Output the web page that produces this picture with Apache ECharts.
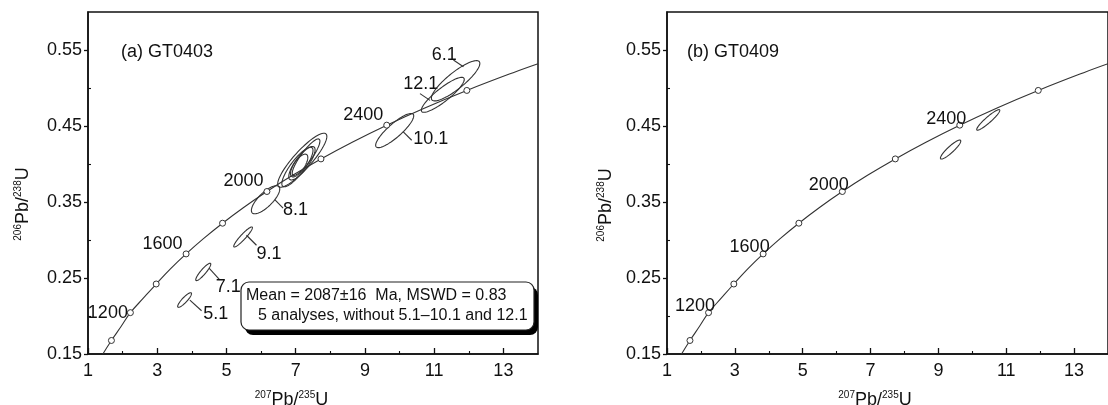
<!DOCTYPE html>
<html>
<head>
<meta charset="utf-8">
<script src="https://cdn.jsdelivr.net/npm/echarts@6/dist/echarts.min.js"></script>
<style>
html,body{margin:0;padding:0;background:#fff;}
#chart{width:1108px;height:405px;}
</style>
</head>
<body>
<div id="chart"></div>
<script>
// ---------- data ----------
const xMajor = [1, 3, 5, 7, 9, 11, 13];
const xMinor = [2, 4, 6, 8, 10, 12];
const yMajor = [0.15, 0.25, 0.35, 0.45, 0.55];
const yMinor = [0.2, 0.3, 0.4, 0.5];
const xTickLabels = ['1', '3', '5', '7', '9', '11', '13'];
const yTickLabels = ['0.15', '0.25', '0.35', '0.45', '0.55'];

// concordia curve points
const curveX = [1.429, 1.677, 1.955, 2.225, 2.598, 2.970, 3.381, 3.834, 4.335, 4.887, 5.496, 6.169, 6.911, 7.730, 8.633, 9.630, 10.730, 11.944, 13.283, 14.0];
const curveY = [0.150, 0.1678, 0.1861, 0.2044, 0.2234, 0.2421, 0.2620, 0.2817, 0.3018, 0.3221, 0.3428, 0.3638, 0.3851, 0.4067, 0.4287, 0.4511, 0.4738, 0.4968, 0.5202, 0.5319];

// age markers (Ma)
const ages = [1000, 1200, 1400, 1600, 1800, 2000, 2200, 2400, 2600];
const ageX = [1.677, 2.225, 2.970, 3.834, 4.887, 6.169, 7.730, 9.630, 11.944];
const ageY = [0.1678, 0.2044, 0.2421, 0.2817, 0.3221, 0.3638, 0.4067, 0.4511, 0.4968];
const labeledAges = [1200, 1600, 2000, 2400];

// panel (a) GT0403 error ellipses: centre, half-widths, correlation
const ellA_label = ['5.1', '7.1', '9.1', '8.1', '', '', '', '', '', '10.1', '12.1', '6.1'];
const ellA_cx = [3.79, 4.33, 5.48, 6.13, 7.19, 7.05, 7.18, 7.30, 7.10, 9.86, 11.25, 11.62];
const ellA_cy = [0.221, 0.258, 0.304, 0.353, 0.405, 0.396, 0.401, 0.409, 0.398, 0.444, 0.491, 0.5095];
const ellA_sx = [0.20, 0.217, 0.27, 0.41, 0.71, 0.45, 0.38, 0.40, 0.25, 0.55, 0.62, 0.70];
const ellA_sy = [0.0096, 0.0114, 0.0132, 0.0185, 0.0355, 0.026, 0.022, 0.024, 0.015, 0.0225, 0.0230, 0.0265];
const ellA_rho = [0.88, 0.90, 0.93, 0.76, 0.88, 0.84, 0.80, 0.88, 0.70, 0.86, 0.88, 0.86];

// panel (b) GT0409 error ellipses
const ellB_label = ['', ''];
const ellB_cx = [9.36, 10.47];
const ellB_cy = [0.419, 0.458];
const ellB_sx = [0.30, 0.34];
const ellB_sy = [0.0125, 0.0135];
const ellB_rho = [0.90, 0.93];

const titleA = '(a) GT0403';
const titleB = '(b) GT0409';
const boxLine1 = 'Mean = 2087±16  Ma, MSWD = 0.83';
const boxLine2 = '5 analyses, without 5.1–10.1 and 12.1';

// ---------- layout / style ----------
const FONT = '"Liberation Sans", Arial, Helvetica, sans-serif';
const INK = '#111';
const LINE = '#333';

const labelLayoutA = {
  '5.1': {line: [5.3, 0, 17, 10.7], text: [18.6, 14]},
  '7.1': {line: [5.8, -3.7, 16.5, 8], text: [12.5, 15]},
  '9.1': {line: [3.4, -1.7, 13.4, 8.3], text: [13.4, 16.6]},
  '8.1': {line: [9.2, 0, 17.5, 8.3], text: [17.5, 10.8]},
  '10.1': {line: [8.6, 1.4, 17, 9.7], text: [18.6, 8.7]},
  '6.1': {line: [7.8, -14.1, -2.2, -20.8], text: [-23.8, -25.8]},
  '12.1': {line: [-12.8, 5.5, -22.8, -1.2], text: [-39.5, -10.5]}
};
const ageLabelOffsetA = {1200: [1, 0], 1600: [0, -10], 2000: [0, -10], 2400: [0, -10]};
const ageLabelOffsetB = {1200: [10, -6.5], 1600: [10, -6.5], 2000: [10, -6.5], 2400: [10, -6.5]};

function fmtFrom(vals, labels) {
  return function (v) {
    const i = vals.findIndex(m => Math.abs(m - v) < 1e-6);
    return i >= 0 ? labels[i] : '';
  };
}

function makeAxes(gridIndex) {
  const xs = [
    {
      type: 'value', gridIndex: gridIndex, min: 1, max: 14, interval: 2, position: 'bottom',
      axisLine: {show: true, onZero: false, lineStyle: {color: INK, width: 1.5}},
      axisTick: {show: true, inside: true, length: 6, customValues: xMajor, lineStyle: {color: INK, width: 1.3}},
      axisLabel: {show: true, margin: 8, customValues: xMajor,
        formatter: fmtFrom(xMajor, xTickLabels), color: INK, fontSize: 18, fontFamily: FONT},
      splitLine: {show: false}
    },
    {
      type: 'value', gridIndex: gridIndex, min: 1, max: 14, interval: 1, position: 'bottom',
      axisLine: {show: false, onZero: false},
      axisTick: {show: true, inside: true, length: 3, customValues: xMinor, lineStyle: {color: INK, width: 1.1}},
      axisLabel: {show: false},
      splitLine: {show: false}
    }
  ];
  const ys = [
    {
      type: 'value', gridIndex: gridIndex, min: 0.15, max: 0.6, interval: 0.1, position: 'left',
      axisLine: {show: true, onZero: false, lineStyle: {color: INK, width: 1.5}},
      axisTick: {show: true, inside: false, length: 4, customValues: yMajor, lineStyle: {color: INK, width: 1.3}},
      axisLabel: {show: true, margin: 6, customValues: yMajor,
        formatter: fmtFrom(yMajor, yTickLabels), color: INK, fontSize: 18, fontFamily: FONT},
      splitLine: {show: false}
    },
    {
      type: 'value', gridIndex: gridIndex, min: 0.15, max: 0.6, interval: 0.05, position: 'left',
      axisLine: {show: false, onZero: false},
      axisTick: {show: true, inside: true, length: 3, customValues: yMinor, lineStyle: {color: INK, width: 1.1}},
      axisLabel: {show: false},
      splitLine: {show: false}
    }
  ];
  return {xs, ys};
}

function makeEllipseRenderer(labels, layout) {
  return function (params, api) {
    const cx = api.value(0), cy = api.value(1), sx = api.value(2), sy = api.value(3), r = api.value(4);
    const q = Math.sqrt(1 - r * r);
    const pts = [];
    const N = 90;
    for (let k = 0; k <= N; k++) {
      const t = 2 * Math.PI * k / N;
      pts.push(api.coord([cx + sx * Math.cos(t), cy + sy * (r * Math.cos(t) + q * Math.sin(t))]));
    }
    const children = [{
      type: 'polygon', shape: {points: pts},
      style: {fill: 'none', stroke: LINE, lineWidth: 1.1}
    }];
    const name = labels[params.dataIndex];
    const lay = name ? layout[name] : null;
    if (lay) {
      const c = api.coord([cx, cy]);
      children.push({
        type: 'line',
        shape: {x1: c[0] + lay.line[0], y1: c[1] + lay.line[1], x2: c[0] + lay.line[2], y2: c[1] + lay.line[3]},
        style: {stroke: LINE, lineWidth: 1.1}
      });
      children.push({
        type: 'text', x: c[0] + lay.text[0], y: c[1] + lay.text[1],
        style: {text: name, fontSize: 18, fontFamily: FONT, fill: INK,
          textAlign: 'left', textVerticalAlign: 'middle', align: 'left', verticalAlign: 'middle'}
      });
    }
    return {type: 'group', children: children};
  };
}

function panelSeries(axBase, ell, labels, layout, ageOffsets) {
  const curveData = curveX.map((x, i) => [x, curveY[i]]);
  const ageData = ages.map((a, i) => {
    const show = labeledAges.indexOf(a) >= 0;
    return {
      value: [ageX[i], ageY[i]],
      label: {
        show: show, formatter: String(a), position: 'left', distance: 0,
        offset: show ? ageOffsets[a] : [0, 0],
        color: INK, opacity: 1, fontSize: 18, fontFamily: FONT
      }
    };
  });
  const ellData = ell.cx.map((v, i) => [v, ell.cy[i], ell.sx[i], ell.sy[i], ell.rho[i]]);
  return [
    {
      type: 'line', xAxisIndex: axBase.x, yAxisIndex: axBase.y, data: curveData,
      smooth: 0.4, showSymbol: false, symbol: 'none', silent: true,
      lineStyle: {color: LINE, width: 1.1}, z: 2
    },
    {
      type: 'custom', xAxisIndex: axBase.x, yAxisIndex: axBase.y, data: ellData,
      encode: {x: 0, y: 1}, renderItem: makeEllipseRenderer(labels, layout), z: 3, silent: true
    },
    {
      type: 'scatter', xAxisIndex: axBase.x, yAxisIndex: axBase.y, data: ageData,
      symbol: 'circle', symbolSize: 6, silent: true,
      itemStyle: {color: '#fff', borderColor: LINE, borderWidth: 1, opacity: 1}, z: 4
    }
  ];
}

const axA = makeAxes(0);
const axB = makeAxes(1);

function axisNameText(sup1, sup2) {
  return '{sup|' + sup1 + '}{main|Pb/}{sup|' + sup2 + '}{main|U}';
}
const nameRich = {
  main: {fontSize: 18, fontFamily: FONT, fill: INK, color: INK, lineHeight: 20},
  sup: {fontSize: 10, fontFamily: FONT, fill: INK, color: INK, verticalAlign: 'top'}
};

function nameEl(x, y, rot, text) {
  return {
    type: 'text', x: x, y: y, rotation: rot, z: 50,
    style: {text: text, rich: nameRich, fill: INK, fontFamily: FONT,
      textAlign: 'center', textVerticalAlign: 'middle', align: 'center', verticalAlign: 'middle'}
  };
}
function plainText(x, y, text, size, z) {
  return {
    type: 'text', x: x, y: y, z: z || 50,
    style: {text: text, fontSize: size, fontFamily: FONT, fill: INK,
      textAlign: 'left', textVerticalAlign: 'middle', align: 'left', verticalAlign: 'middle'}
  };
}

const option = {
  animation: false,
  backgroundColor: '#fff',
  grid: [
    {left: 88, top: 12, width: 450, height: 342, show: true, borderColor: INK, borderWidth: 1.5, backgroundColor: 'transparent'},
    {left: 667, top: 12, width: 450, height: 342, show: true, borderColor: INK, borderWidth: 1.5, backgroundColor: 'transparent'}
  ],
  xAxis: [axA.xs[0], axA.xs[1], axB.xs[0], axB.xs[1]],
  yAxis: [axA.ys[0], axA.ys[1], axB.ys[0], axB.ys[1]],
  series: [].concat(
    panelSeries({x: 0, y: 0},
      {cx: ellA_cx, cy: ellA_cy, sx: ellA_sx, sy: ellA_sy, rho: ellA_rho},
      ellA_label, labelLayoutA, ageLabelOffsetA),
    panelSeries({x: 2, y: 2},
      {cx: ellB_cx, cy: ellB_cy, sx: ellB_sx, sy: ellB_sy, rho: ellB_rho},
      ellB_label, {}, ageLabelOffsetB)
  ),
  graphic: {
    elements: [
      plainText(121, 52, titleA, 18),
      plainText(687, 52, titleB, 18),
      nameEl(291.5, 400, 0, axisNameText('207', '235')),
      nameEl(875, 400, 0, axisNameText('207', '235')),
      nameEl(23, 204, Math.PI / 2, axisNameText('206', '238')),
      nameEl(606, 205, Math.PI / 2, axisNameText('206', '238')),
      {type: 'rect', z: 100, shape: {x: 245, y: 287, width: 293, height: 48, r: 8}, style: {fill: '#000'}},
      {type: 'rect', z: 101, shape: {x: 241, y: 282, width: 293, height: 48, r: 8}, style: {fill: '#fff', stroke: '#222', lineWidth: 1.2}},
      plainText(246, 296, boxLine1, 16, 102),
      plainText(258, 316, boxLine2, 16, 102)
    ]
  }
};

const chart = echarts.init(document.getElementById('chart'), null, {renderer: 'canvas'});
chart.setOption(option);
</script>
</body>
</html>
